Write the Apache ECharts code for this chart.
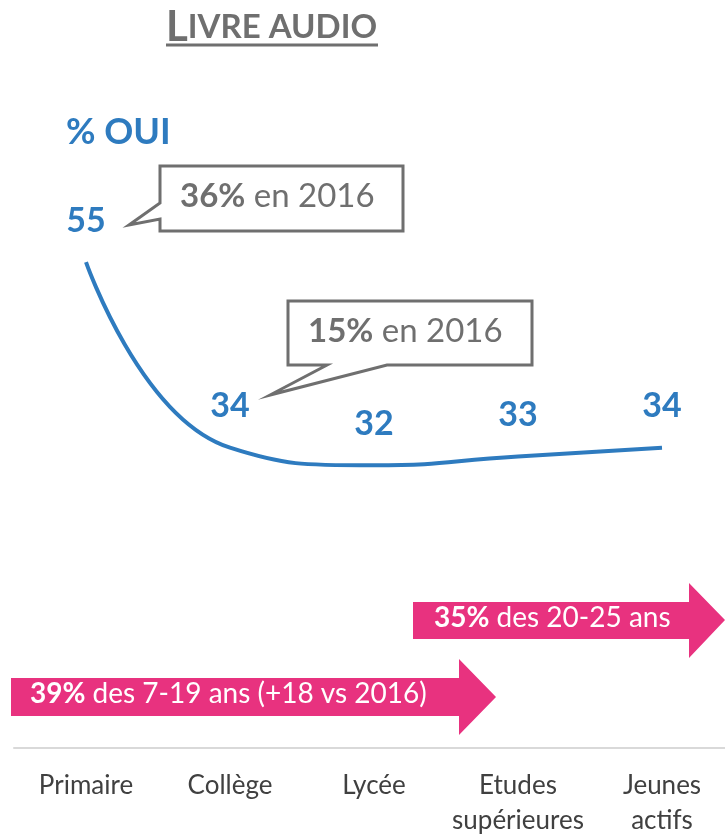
<!DOCTYPE html>
<html>
<head>
<meta charset="utf-8">
<script src="https://cdn.jsdelivr.net/npm/echarts@6/dist/echarts.min.js"></script>
<style>
  html, body { margin: 0; padding: 0; background: #ffffff; }
  #chart { width: 725px; height: 838px; }
</style>
</head>
<body>
<div id="chart"></div>
<script>
const categories = ['Primaire', 'Collège', 'Lycée', 'Etudes\nsupérieures', 'Jeunes\nactifs']
const ouiValues = [55, 34, 32, 33, 34]

const BLUE = '#2e7bbf'
const GREY = '#6f6f6f'
const PINK = '#e8327f'
const FONT = 'Lato'

const chart = echarts.init(document.getElementById('chart'))

chart.setOption({
  animation: false,
  grid: {
    left: 14,
    width: 720,
    top: 218,
    bottom: 90,
    outerBoundsMode: 'none'
  },
  xAxis: {
    type: 'category',
    data: categories,
    boundaryGap: true,
    axisTick: { show: false },
    axisLine: {
      lineStyle: { color: '#d9d9d9', width: 2 }
    },
    axisLabel: {
      color: '#404040',
      fontFamily: FONT,
      fontSize: 26,
      lineHeight: 35,
      margin: 20,
      interval: 0
    }
  },
  yAxis: {
    type: 'value',
    min: 0,
    max: 60,
    show: false
  },
  series: [
    {
      type: 'line',
      data: ouiValues,
      smooth: 0.5,
      symbol: 'circle',
      symbolSize: 1,
      itemStyle: { color: 'rgba(0,0,0,0)' },
      lineStyle: { color: BLUE, width: 4 },
      label: {
        show: true,
        position: 'top',
        distance: 24,
        color: BLUE,
        fontFamily: FONT,
        fontWeight: 'bold',
        fontSize: 34
      }
    }
  ],
  graphic: [
    // title in small caps with underline
    {
      type: 'text',
      left: 166,
      top: 6,
      style: {
        text: '{a|L}{b|IVRE AUDIO}',
        rich: {
          a: { fontFamily: FONT, fontWeight: 'bold', fontSize: 42, fill: GREY },
          b: { fontFamily: FONT, fontWeight: 'bold', fontSize: 33, fill: GREY }
        }
      }
    },
    {
      type: 'line',
      shape: { x1: 166, y1: 45, x2: 378, y2: 45 },
      style: { stroke: GREY, lineWidth: 3 }
    },
    {
      type: 'text',
      left: 66,
      top: 114,
      style: {
        text: '% OUI',
        fill: BLUE,
        fontFamily: FONT,
        fontWeight: 'bold',
        fontSize: 36
      }
    },
    // callout 1
    {
      type: 'polygon',
      shape: {
        points: [[160, 166], [403, 166], [403, 231], [160, 231], [160, 219], [129, 225], [160, 203]]
      },
      style: { fill: '#ffffff', stroke: GREY, lineWidth: 3 }
    },
    {
      type: 'text',
      left: 180,
      top: 180,
      style: {
        text: '{b|36%}{r| en 2016}',
        rich: {
          b: { fontFamily: FONT, fontWeight: 'bold', fontSize: 33, fill: GREY },
          r: { fontFamily: FONT, fontSize: 33, fill: GREY }
        }
      }
    },
    // callout 2
    {
      type: 'polygon',
      shape: {
        points: [[288, 301], [532, 301], [532, 365], [387, 365], [270, 395], [327, 365], [288, 365]]
      },
      style: { fill: '#ffffff', stroke: GREY, lineWidth: 3 }
    },
    {
      type: 'text',
      left: 308,
      top: 315,
      style: {
        text: '{b|15%}{r| en 2016}',
        rich: {
          b: { fontFamily: FONT, fontWeight: 'bold', fontSize: 33, fill: GREY },
          r: { fontFamily: FONT, fontSize: 33, fill: GREY }
        }
      }
    },
    // pink arrows
    {
      type: 'polygon',
      shape: {
        points: [[413, 602], [689, 602], [689, 583], [725, 620], [689, 658], [689, 639], [413, 639]]
      },
      style: { fill: PINK }
    },
    {
      type: 'text',
      left: 434,
      top: 604,
      style: {
        text: '{b|35%}{r| des 20-25 ans}',
        rich: {
          b: { fontFamily: FONT, fontWeight: 'bold', fontSize: 28, fill: '#ffffff' },
          r: { fontFamily: FONT, fontSize: 28, fill: '#ffffff' }
        }
      }
    },
    {
      type: 'polygon',
      shape: {
        points: [[11, 678], [459, 678], [459, 659], [496, 697], [459, 735], [459, 716], [11, 716]]
      },
      style: { fill: PINK }
    },
    {
      type: 'text',
      left: 30,
      top: 680,
      style: {
        text: '{b|39%}{r| des 7-19 ans (+18 vs 2016)}',
        rich: {
          b: { fontFamily: FONT, fontWeight: 'bold', fontSize: 28, fill: '#ffffff' },
          r: { fontFamily: FONT, fontSize: 28, fill: '#ffffff' }
        }
      }
    }
  ]
})
</script>
</body>
</html>
